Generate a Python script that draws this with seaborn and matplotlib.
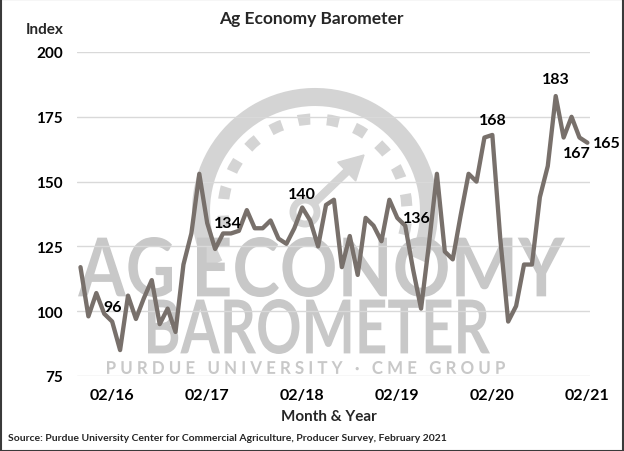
import numpy as np
import pandas as pd
import matplotlib
matplotlib.use("Agg")
import matplotlib.pyplot as plt
import seaborn as sns
from matplotlib.textpath import TextPath
from matplotlib.patches import PathPatch, Rectangle, Arc, Circle, FancyArrow
from matplotlib.font_manager import FontProperties
from matplotlib.transforms import Affine2D, IdentityTransform

# ---------------- data ----------------
month_labels = pd.date_range("2015-10-01", periods=65, freq="MS").strftime("%m/%y").tolist()
index_values = [117, 98, 107, 99, 96, 85, 106, 97, 105, 112, 95, 101, 92, 118, 130,
                153, 134, 124, 130, 130, 131, 139, 132, 132, 135, 128, 126, 132, 140,
                135, 125, 141, 143, 117, 129, 114, 136, 133, 127, 143, 136, 133, 116,
                101, 126, 153, 123, 120, 137, 153, 150, 167, 168, 128, 96, 102, 118,
                118, 144, 156, 183, 167, 175, 167, 165]
tick_labels = ["02/16", "02/17", "02/18", "02/19", "02/20", "02/21"]
y_ticks = [75, 100, 125, 150, 175, 200]
labeled_months = ["02/16", "02/17", "02/18", "02/19", "02/20", "10/20", "01/21", "02/21"]

df = pd.DataFrame({"month": month_labels, "index": index_values})
df["pos"] = np.arange(len(df))

W, H = 624, 452
FONT = "Lato"
sns.set_theme(style="white")
plt.rcParams["font.family"] = [FONT, "DejaVu Sans"]

fig = plt.figure(figsize=(W / 100, H / 100), dpi=100)
ax = fig.add_axes([77 / W, 1 - 377 / H, (590 - 77) / W, (377 - 53) / H])

def P(x, y):
    return (x, H - y)

# ---------------- watermark ----------------
wm_text = "#c8c8c8"
wm_gauge = "#d4d4d4"
ident = IdentityTransform()

def fit_text(s, x0, ytop, w, h, color, weight="bold", family=FONT):
    fp = FontProperties(family=family, weight=weight)
    tp = TextPath((0, 0), s, prop=fp, size=100)
    bb = tp.get_extents()
    tr = (Affine2D().translate(-bb.x0, -bb.y0)
          .scale(w / bb.width, h / bb.height)
          .translate(x0, H - ytop - h))
    patch = PathPatch(tp, transform=tr, facecolor=color, edgecolor="none",
                      zorder=0.2, clip_on=False)
    ax.add_artist(patch)

# gauge ring
cx, cy = 315, 212
ring = Arc(P(cx, cy), 2 * 114, 2 * 114, theta1=-25, theta2=208, transform=ident,
           color=wm_gauge, lw=13, zorder=0.2, clip_on=False)
ax.add_artist(ring)
dashes = Arc(P(cx, cy), 2 * 92, 2 * 92, theta1=-15, theta2=195, transform=ident,
             color=wm_gauge, lw=8, zorder=0.2, clip_on=False, linestyle=(0, (1.1, 1.5)))
ax.add_artist(dashes)
hub = Circle(P(305, 213), 12, transform=ident, facecolor="none", edgecolor=wm_gauge,
             lw=5, zorder=0.2, clip_on=False)
ax.add_artist(hub)
arrow = FancyArrow(314, H - 204, 50, 48, width=7, head_width=26, head_length=24,
                   transform=ident, color=wm_gauge, zorder=0.2, clip_on=False,
                   length_includes_head=True)
ax.add_artist(arrow)

fit_text("AG", 78, 238, 94, 60, wm_text)
fit_text("ECONOMY", 197, 238, 368, 60, wm_text)
fit_text("BAROMETER", 148, 300, 342, 55, wm_text)
fit_text("P U R D U E   U N I V E R S I T Y   ·   C M E   G R O U P", 107, 362, 398, 13, wm_text)

# ---------------- line ----------------
sns.lineplot(data=df, x="pos", y="index", ax=ax, color="#78706b", linewidth=3.1,
             zorder=3)

ax.set_xlim(-0.44, 64.33)
ax.set_ylim(75, 200)
ax.set_yticks(y_ticks)
ax.set_yticklabels([str(v) for v in y_ticks], fontweight="bold", fontsize=11)
tick_pos = [month_labels.index(t) for t in tick_labels]
ax.set_xticks(tick_pos)
ax.set_xticklabels(tick_labels, fontweight="bold", fontsize=11.5)
ax.tick_params(axis="both", length=0, colors="black")
ax.tick_params(axis="x", pad=9)
ax.tick_params(axis="y", pad=10)
ax.grid(axis="y", color="#d9d9d9", lw=1)
ax.grid(axis="x", visible=False)
ax.set_axisbelow(True)
for s in ax.spines.values():
    s.set_visible(False)
ax.set_xlabel("")
ax.set_ylabel("")

# data labels
offsets = {"02/16": (0, 15), "02/17": (21, 0), "02/18": (0, 14), "02/19": (20, 0),
           "02/20": (0, 15), "10/20": (0, 17), "01/21": (-3, -15), "02/21": (19, 0)}
for m in labeled_months:
    i = month_labels.index(m)
    v = index_values[i]
    ax.annotate(str(v), (i, v), xytext=offsets[m], textcoords="offset pixels",
                ha="center", va="center", fontsize=11.5, fontweight="bold",
                color="black", zorder=4)

# ---------------- texts ----------------
fig.text(311 / W, 1 - 19 / H, "Ag Economy Barometer", ha="center", va="center",
         fontsize=12.5, fontweight="bold")
fig.text(45 / W, 1 - 30 / H, "Index", ha="center", va="center", fontsize=11,
         fontweight="bold")
fig.text(329 / W, 1 - 417 / H, "Month & Year", ha="center", va="center",
         fontsize=11, fontweight="bold")
fig.text(8 / W, 1 - 439 / H,
         "Source: Purdue University Center for Commercial Agriculture, Producer Survey, February 2021",
         ha="left", va="center", fontsize=7.5, fontweight="bold")

fig.add_artist(Rectangle((0.001, 0.001), 0.998, 0.998, transform=fig.transFigure,
                         fill=False, edgecolor="#3a3a3a", lw=1.5))

fig.savefig("out.png", dpi=100)
